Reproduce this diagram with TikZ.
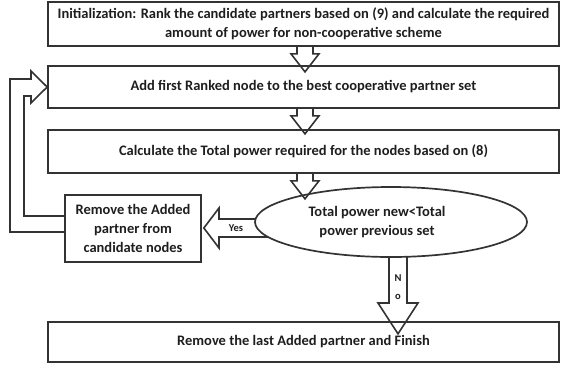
\documentclass[tikz,border=0pt]{standalone}
\usepackage{fontspec}
\setmainfont{Carlito}
\usetikzlibrary{shapes.geometric,calc}
\definecolor{ln}{HTML}{333333}
\definecolor{tx}{HTML}{1E1E1E}
\begin{document}
\begin{tikzpicture}[x=1pt,y=-1pt,
  box/.style={draw=ln,line width=1.7pt,minimum width=511pt,inner sep=0pt,align=center,font=\bfseries\fontsize{14.5}{18.5}\selectfont,text=tx},
  hol/.style={draw=ln,line width=1.6pt,line join=miter},
  lbl/.style={font=\bfseries\fontsize{10.5}{10.5}\selectfont,text=tx,inner sep=0pt}]
\useasboundingbox (0,0) rectangle (561,370);
\node[box,minimum height=44pt] (b1) at (303.5,24) {Initialization: Rank the candidate partners based on (9) and calculate the required\\amount of power for non-cooperative scheme};
\node[box,minimum height=42pt] (b2) at (303.5,87) {Add first Ranked node to the best cooperative partner set};
\node[box,minimum height=43pt] (b3) at (303.5,151.5) {Calculate the Total power required for the nodes based on (8)};
\node[draw=ln,line width=1.7pt,minimum width=136pt,minimum height=67pt,inner sep=0pt,align=center,font=\bfseries\fontsize{14.5}{19}\selectfont,text=tx] (rem) at (133,228.5) {Remove the Added\\partner from\\candidate nodes};
\node[draw=ln,line width=1.7pt,ellipse,minimum width=272pt,minimum height=70pt,inner sep=0pt] (ell) at (391,222) {};
\node[align=center,inner sep=0pt,font=\bfseries\fontsize{14.5}{19}\selectfont,text=tx] (elltxt) at (377,222) {Total power new<Total\\power previous set};
\node[box,minimum height=40pt] (b4) at (303.5,342) {Remove the last Added partner and Finish};
% small down arrows
\foreach \t/\b in {b1/b2,b2/b3,b3/ell}{
  \coordinate (T) at ($(\t.south)+(1.5,0)$);
  \draw[hol] ($(T)+(-8,0)$) -- ($(T)+(-8,7)$) -- ($(T)+(-14,7)$) -- ($(T)+(0,25)$) -- ($(T)+(14,7)$) -- ($(T)+(8,7)$) -- ($(T)+(8,0)$);
}
% Yes arrow
\coordinate (yt) at ($(rem.east)+(2,-0.5)$);
\draw[hol] (268,237) -- (219,237) -- (219,248) -- (yt) -- (219,208) -- (219,219) -- (255.5,219);
\node[lbl] (yes) at (236,228) {Yes};
% No arrow
\coordinate (nt) at ($(ell.south)+(7,76)$);
\draw[hol] (389,257) -- (389,303) -- (378,303) -- (nt) -- (418,303) -- (407,303) -- (407,256.8);
\node[lbl] (no1) at (398,278) {N};
\node[lbl] (no2) at (398,297) {o};
% loop back
\draw[hol] ($(rem.west)+(0,3.5)$) -- (10,232) -- (10,79) -- (31,79) -- (31,71) -- (b2.west) -- (31,103) -- (31,96) -- (24,96) -- (24,216) -- ($(rem.west)+(0,-12.5)$);
\end{tikzpicture}
\end{document}
